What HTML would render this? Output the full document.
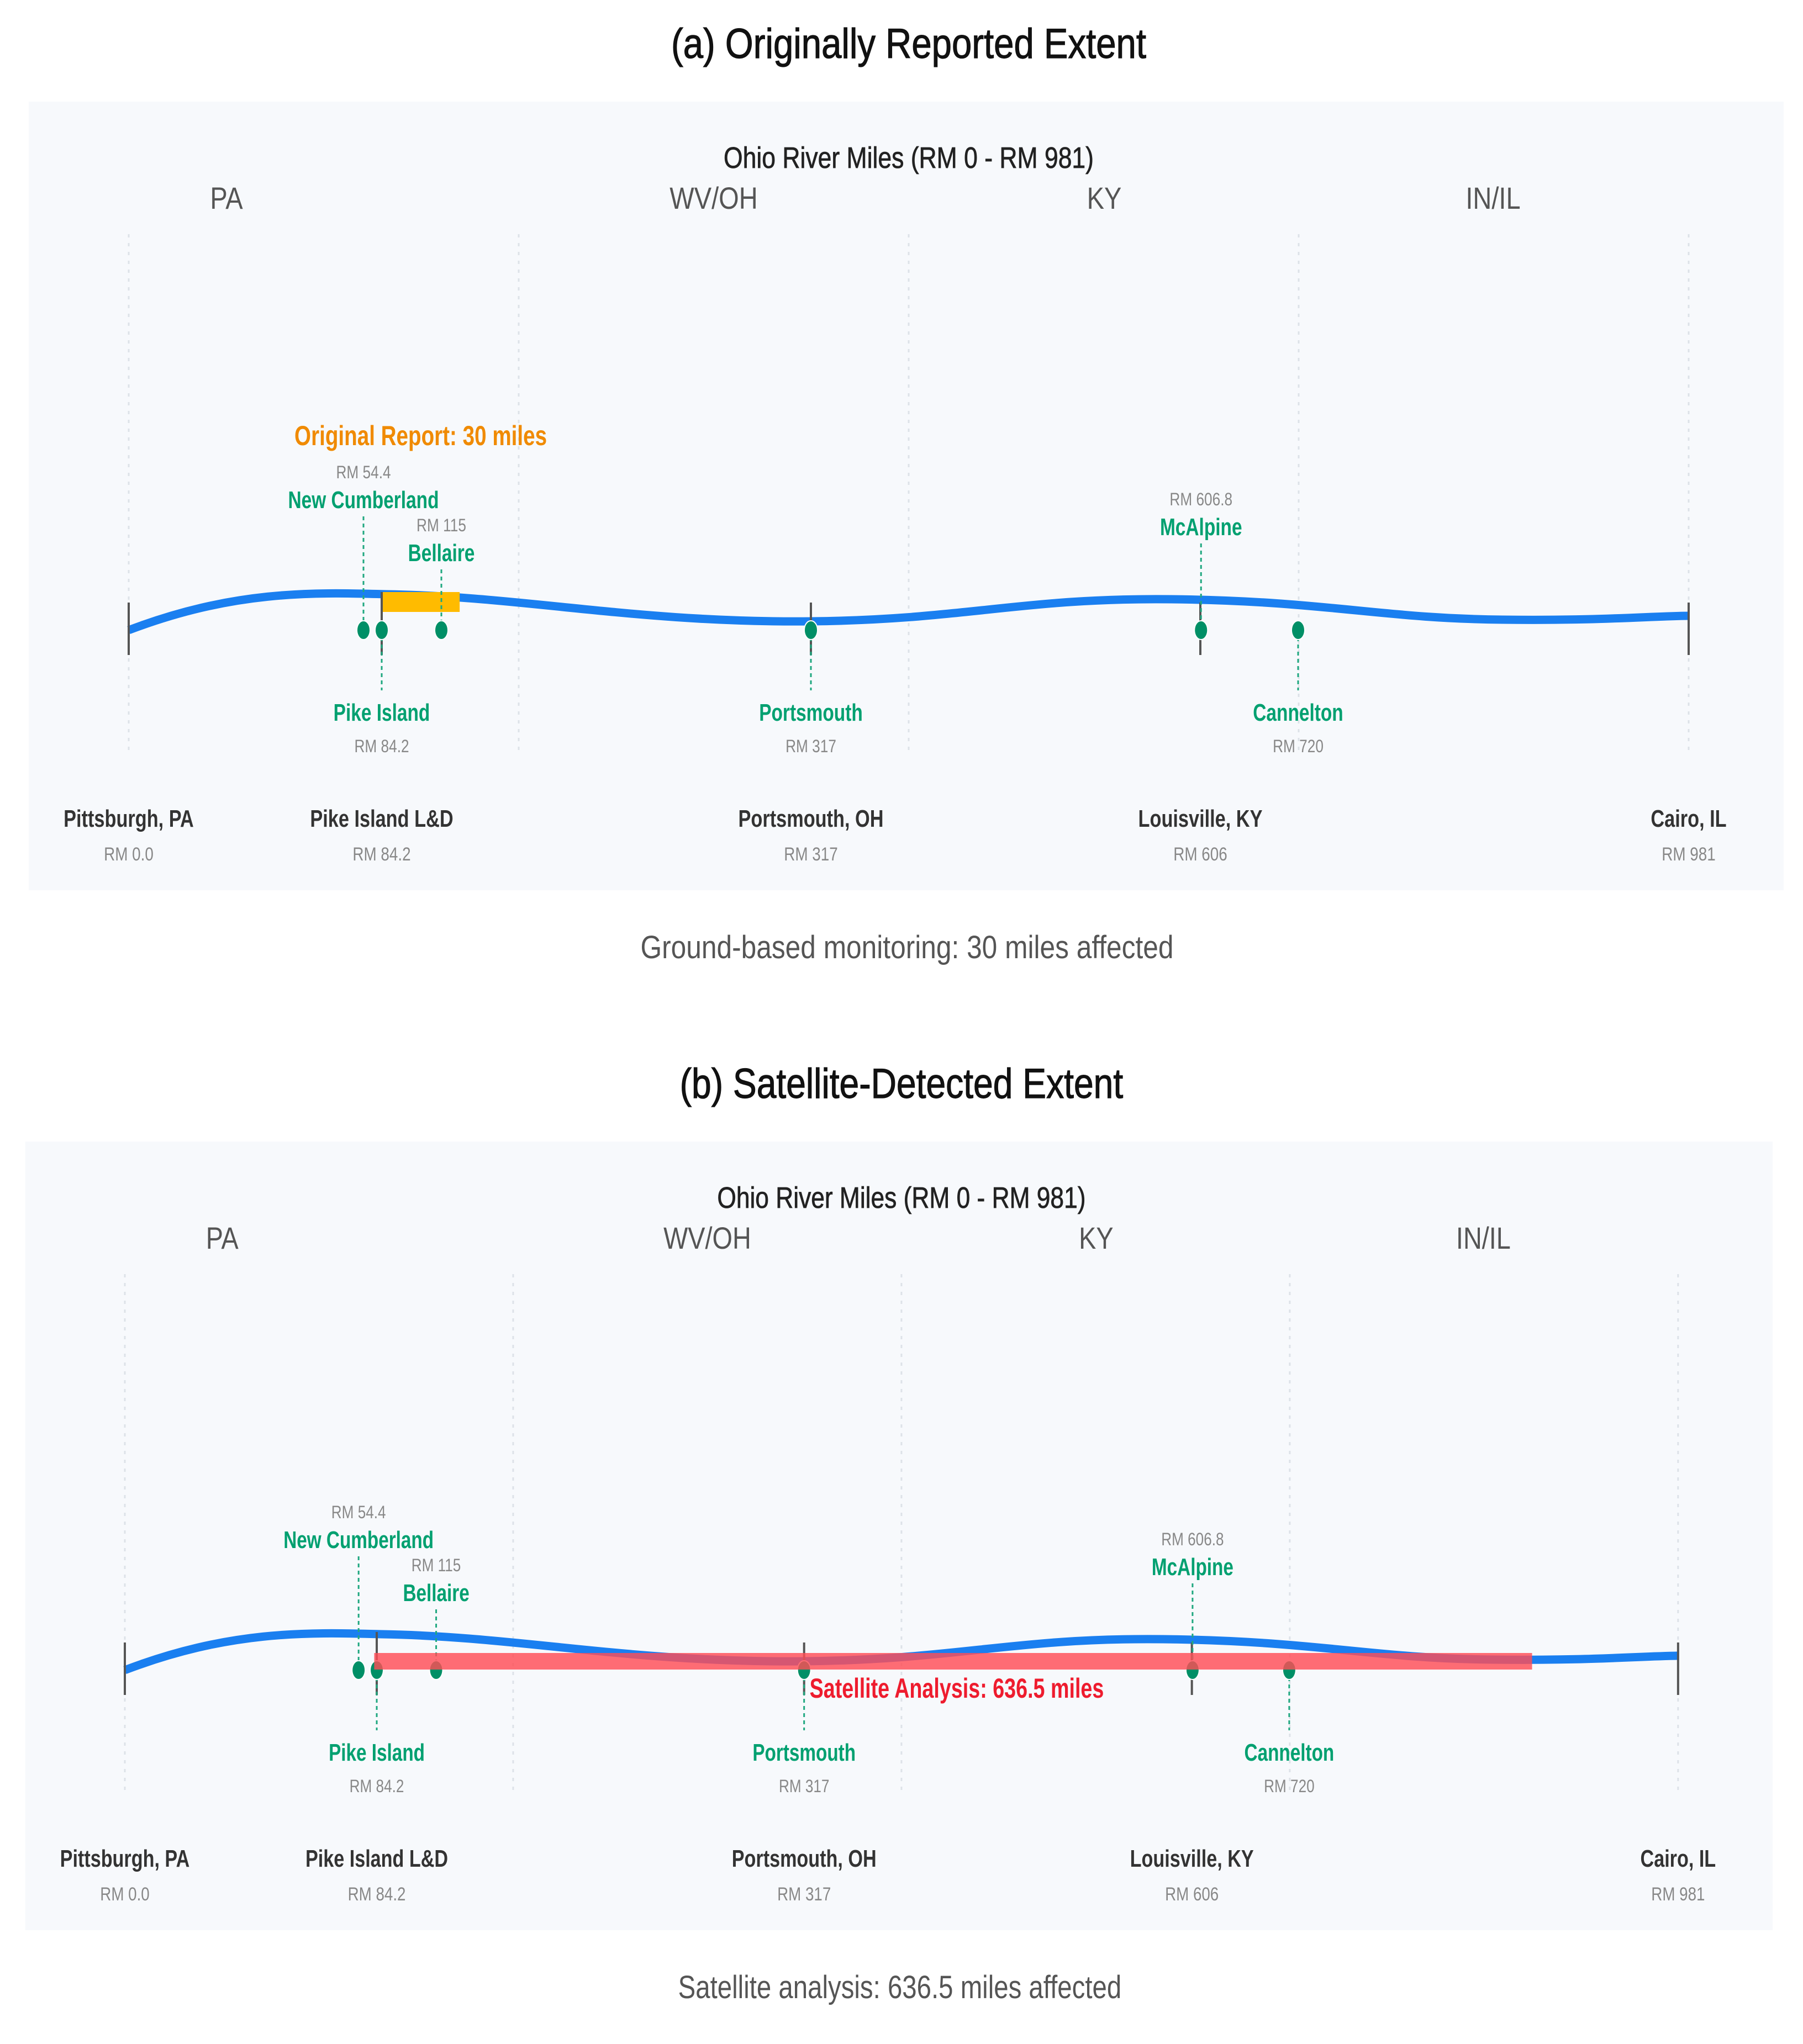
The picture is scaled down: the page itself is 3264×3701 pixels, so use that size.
<!DOCTYPE html>
<html><head><meta charset="utf-8"><style>
html,body{margin:0;padding:0;background:#fff;}
svg{display:block;}
text{font-family:"Liberation Sans Narrow","Liberation Sans",sans-serif;}
</style></head><body>
<svg id="chart" width="3264" height="3701" viewBox="0 0 3264 3701" xmlns="http://www.w3.org/2000/svg"></svg>
<script>
const states = ["PA","WV/OH","KY","IN/IL"];
const siteNames = ["New Cumberland","Pike Island","Bellaire","Portsmouth","McAlpine","Cannelton"];
const siteRM = [54.4,84.2,115,317,606.8,720];
const siteRMLabels = ["RM 54.4","RM 84.2","RM 115","RM 317","RM 606.8","RM 720"];
const siteAbove = [true,false,true,false,true,false];
const cityNames = ["Pittsburgh, PA","Pike Island L&D","Portsmouth, OH","Louisville, KY","Cairo, IL"];
const cityRM = [0,84.2,317,606,981];
const cityRMLabels = ["RM 0.0","RM 84.2","RM 317","RM 606","RM 981"];
const reportedExtent = [84.2,125];
const satelliteExtent = [80,883];
const panelTitles = ["(a) Originally Reported Extent","(b) Satellite-Detected Extent"];
const captions = ["Ground-based monitoring: 30 miles affected","Satellite analysis: 636.5 miles affected"];
const extentLabels = ["Original Report: 30 miles","Satellite Analysis: 636.5 miles"];
const titleLen=[860,806];
const captionLen=[965,806];

// piecewise river-mile axis (schematic, non-linear)
const axRM = [0,54.4,84.2,115,317,606,720,981];
const axPX = [233,658,691,799,1468,2173,2350,3057];
function xScale(rm){
  for(let i=0;i<axRM.length-1;i++){
    if(rm<=axRM[i+1]||i===axRM.length-2){
      const t=(rm-axRM[i])/(axRM[i+1]-axRM[i]);
      return axPX[i]+t*(axPX[i+1]-axPX[i]);
    }
  }
}
const NS="http://www.w3.org/2000/svg";
const svg=document.getElementById('chart');
function el(tag,attrs,parent,txt){const e=document.createElementNS(NS,tag);for(const k in attrs)e.setAttribute(k,attrs[k]);if(txt!==undefined)e.textContent=txt;(parent||svg).appendChild(e);return e;}
function tx(parent,x,y,sx,attrs,txt){
  const a=Object.assign({x:0,y:0,transform:'translate('+x+','+y+') scale('+sx+',1)'},attrs);
  return el('text',a,parent,txt);
}

function panel(idx, ty){
  const g=el('g',{transform: idx===0?'':'translate(-6,'+ty+') scale(0.9957,1)'});
  
  
  const t=el('text',{x:1645,y:105,'text-anchor':'middle','font-size':76,fill:'#111','stroke':'#111','stroke-width':1.2,textLength:titleLen[idx],lengthAdjust:'spacingAndGlyphs'},g,panelTitles[idx]);
  
  
  const bg=el('rect',{x:52,y:184,width:3177,height:1428,fill:'#f7f9fc'},g);
  
  
  const ax=el('text',{x:1645,y:304,'text-anchor':'middle','font-size':54,fill:'#222','stroke':'#222','stroke-width':0.8,textLength:670,lengthAdjust:'spacingAndGlyphs'},g,'Ohio River Miles (RM 0 - RM 981)');
  
  
  const stateX=[410,1292,1999,2703];
  states.forEach((s,i)=>{
    const e=tx(g,stateX[i],378,0.84,{'text-anchor':'middle','font-size':56,fill:'#555'},s);
    
    
  });
  [0,1,2,3,4].forEach(i=>{
    const x=233+i*(3057-233)/4;
    const l=el('line',{x1:x,y1:424,x2:x,y2:1367,stroke:'#dde2e8','stroke-width':3,'stroke-dasharray':'6,10'},g);
    
    
  });
  const river=el('path',{d:'M233,1141 C420,1070 560,1072 700,1076 C950,1080 1150,1128 1468,1125 C1750,1122 1850,1082 2120,1085 C2400,1088 2500,1120 2720,1122 C2900,1124 2980,1116 3057,1115',fill:'none',stroke:'#1a7ff0','stroke-width':15},g);
  
  
  if(idx===0){
    const x0=xScale(reportedExtent[0]),x1=xScale(reportedExtent[1]);
    const r=el('rect',{x:x0,y:1072,width:x1-x0,height:36,fill:'#ffbb00'},g);
    
    
    const lt=el('text',{x:(x0+x1)/2,y:806,'text-anchor':'middle','font-size':50,'font-weight':'bold',fill:'#f08a00',textLength:457,lengthAdjust:'spacingAndGlyphs'},g,extentLabels[0]);
    
    
  }
  city(g);
  sites(g);
  if(idx===1){
    const x0=xScale(satelliteExtent[0]),x1=xScale(satelliteExtent[1]);
    const r=el('rect',{x:x0,y:1110,width:x1-x0,height:30,fill:'#ff4d55','fill-opacity':0.82},g);
    
    
    const lt=el('text',{x:1478,y:1191,'font-size':50,'font-weight':'bold',fill:'#ee1c2e',textLength:535,lengthAdjust:'spacingAndGlyphs'},g,extentLabels[1]);
    
    
  }
  const c=el('text',{x:1642,y:1735,'text-anchor':'middle','font-size':58,fill:'#555',textLength:captionLen[idx],lengthAdjust:'spacingAndGlyphs'},g,captions[idx]);
  
  
}
function city(g){
  cityNames.forEach((n,i)=>{
    const x=xScale(cityRM[i]);
    const tk=el('line',{x1:x,y1:i===1?1072:1091,x2:x,y2:1186,stroke:'#555','stroke-width':4},g);
    
    
    const t=tx(g,x,1497,0.78,{'text-anchor':'middle','font-size':44,'font-weight':'bold',fill:'#333'},n);
    
    
    const r=tx(g,x,1558,0.82,{'text-anchor':'middle','font-size':34,fill:'#888'},cityRMLabels[i]);
    
    
  });
}
function sites(g){
  const aboveNameY={0:910,2:1006,4:959};
  siteNames.forEach((n,i)=>{
    const x=xScale(siteRM[i]);
    if(siteAbove[i]){
      const ny=aboveNameY[i];
      const l=el('line',{x1:x,y1:ny+25,x2:x,y2:1141,stroke:'#20a880','stroke-width':3,'stroke-dasharray':'7,6'},g);
      
      
      const r=tx(g,x,ny-44,0.82,{'text-anchor':'middle','font-size':32,fill:'#888'},siteRMLabels[i]);
      
      
      const t=tx(g,x,ny+10,0.76,{'text-anchor':'middle','font-size':44,'font-weight':'bold',fill:'#00a070'},n);
      
      
    } else {
      const l=el('line',{x1:x,y1:1141,x2:x,y2:1250,stroke:'#20a880','stroke-width':3,'stroke-dasharray':'7,6'},g);
      
      
      const t=tx(g,x,1305,0.76,{'text-anchor':'middle','font-size':44,'font-weight':'bold',fill:'#00a070'},n);
      
      
      const r=tx(g,x,1362,0.82,{'text-anchor':'middle','font-size':32,fill:'#888'},siteRMLabels[i]);
      
      
    }
    const m=el('ellipse',{cx:x,cy:1141,rx:12,ry:17,fill:'#008f66',stroke:'#fff','stroke-width':2},g);
    
    
  });
}
panel(0,0);
panel(1,1883);
</script>
</body></html>
